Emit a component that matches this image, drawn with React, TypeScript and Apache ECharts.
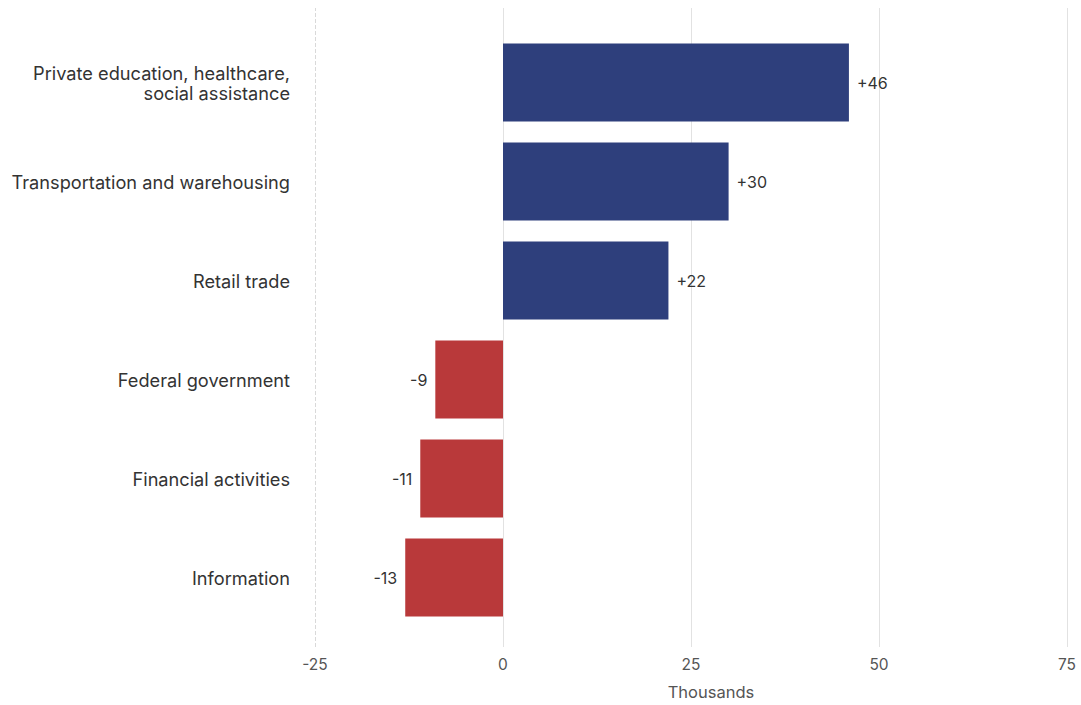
import React, { useEffect, useRef } from "react";
import * as echarts from "echarts";

const categories = [
  "Private education, healthcare,\nsocial assistance",
  "Transportation and warehousing",
  "Retail trade",
  "Federal government",
  "Financial activities",
  "Information",
];
const values = [46, 30, 22, -9, -11, -13];
const gridValues = [-25, 0, 25, 50, 75];

const BLUE = "#2E3F7C";
const RED = "#B9393A";
const FONT = "Inter, 'Noto Sans', sans-serif";

export default function App() {
  const ref = useRef<HTMLDivElement>(null);
  useEffect(() => {
    if (!ref.current) return;
    const chart = echarts.init(ref.current, null, { renderer: "svg" });
    chart.setOption({
      animation: false,
      textStyle: { fontFamily: FONT },
      grid: [
        { left: 315, right: 14, top: 8, bottom: 57 },
        { left: 315, right: 14, top: 33, bottom: 78 },
      ],
      xAxis: [
        {
          gridIndex: 0,
          type: "value",
          min: -25,
          max: 75,
          interval: 25,
          axisLine: { show: false },
          axisTick: { show: false },
          splitLine: { show: false },
          axisLabel: { color: "#555", fontSize: 15.5, margin: 9, fontFamily: FONT },
          name: "Thousands",
          nameLocation: "middle",
          nameGap: 36,
          nameTextStyle: { color: "#555", fontSize: 16.5, fontFamily: FONT, padding: [0, 0, 0, 40] },
        },
        {
          gridIndex: 1,
          type: "value",
          min: -25,
          max: 75,
          interval: 25,
          show: false,
          splitLine: { show: false },
        },
      ],
      yAxis: [
        { gridIndex: 0, type: "value", min: 0, max: 1, show: false, splitLine: { show: false } },
        {
          gridIndex: 1,
          type: "category",
          data: categories,
          inverse: true,
          axisLine: { show: false },
          axisTick: { show: false },
          splitLine: { show: false },
          axisLabel: {
            color: "#333",
            fontSize: 18.2,
            margin: 25,
            lineHeight: 20,
            align: "right",
            fontFamily: FONT,
            padding: [0, 0, 2, 0],
          },
        },
      ],
      series: [
        {
          type: "line",
          xAxisIndex: 0,
          yAxisIndex: 0,
          data: [],
          silent: true,
          z: 0,
          markLine: {
            silent: true,
            symbol: "none",
            z: 0,
            label: { show: false },
            data: gridValues.map((v) => ({
              xAxis: v,
              lineStyle: {
                color: v === -25 ? "#d9d9d9" : "#e2e2e2",
                width: 1,
                type: v === -25 ? "dashed" : "solid",
              },
            })),
          },
        },
        {
          type: "bar",
          xAxisIndex: 1,
          yAxisIndex: 1,
          z: 5,
          barCategoryGap: "21%",
          data: values.map((v) => ({
            value: v,
            itemStyle: { color: v >= 0 ? BLUE : RED },
            label: { position: v >= 0 ? "right" : "left" },
          })),
          label: {
            show: true,
            distance: 8,
            color: "#333",
            fontSize: 16,
            fontFamily: FONT,
            formatter: (p: any) => (p.value > 0 ? "+" + p.value : String(p.value)),
          },
        },
      ],
    });
    return () => chart.dispose();
  }, []);
  return <div ref={ref} style={{ width: 1081, height: 705, position: "absolute", left: 0, top: 0 }} />;
}
